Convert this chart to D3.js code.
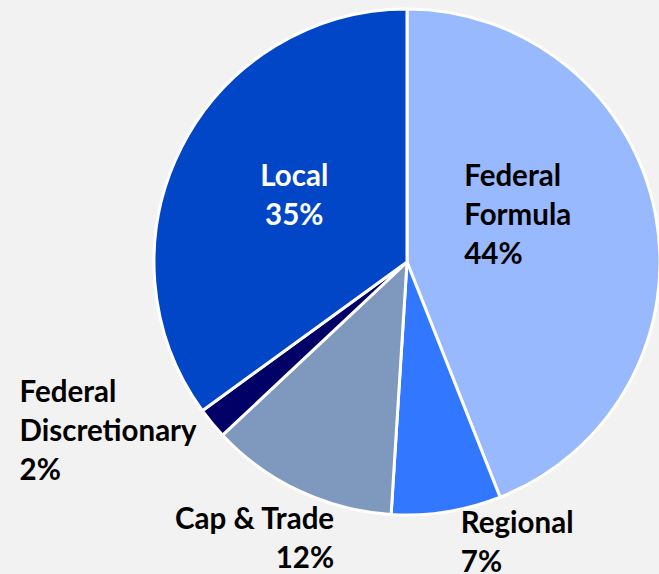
<!DOCTYPE html>
<html>
<head>
<meta charset="utf-8">
<script src="https://cdn.jsdelivr.net/npm/d3@7"></script>
<style>
  html, body { margin: 0; padding: 0; background: #f2f2f2; }
  svg { display: block; }
  .lbl { font-family: Lato, "Open Sans", sans-serif; font-weight: bold; font-size: 29.5px; }
</style>
</head>
<body>
<svg id="chart"></svg>
<script>
// data, clockwise from 12 o'clock
const categories = ["Federal Formula", "Regional", "Cap & Trade", "Federal Discretionary", "Local"];
const shares = [44, 7, 12, 2, 35];
const labelLines = [["Federal", "Formula", "44%"], ["Regional", "7%"], ["Cap & Trade", "12%"], ["Federal", "Discretionary", "2%"], ["Local", "35%"]];
const colors = ["#99b9ff", "#3177ff", "#7f98be", "#000066", "#0046c7"];

const width = 659;
const height = 574;
const cx = 407;
const cy = 262;
const radius = 253;

// label placement: offset from the slice centroid, plus text anchor
const labelLayout = [
  { anchor: "start", dx: -67, dy: -52, fill: "#000" },
  { anchor: "start", dx: 34, dy: 146, fill: "#000" },
  { anchor: "end", dx: -19, dy: 153, fill: "#000" },
  { anchor: "start", dx: -290, dy: 59, fill: "#000" },
  { anchor: "middle", dx: 0, dy: -19, fill: "#fff" }
];
const lineHeight = 39;

const svg = d3.select("#chart")
  .attr("width", width)
  .attr("height", height);

const pie = d3.pie().sort(null).value((d) => d.value);
const arcs = pie(categories.map((c, i) => ({ name: c, value: shares[i], i })));

const arc = d3.arc().innerRadius(0).outerRadius(radius);

const g = svg.append("g").attr("transform", `translate(${cx},${cy})`);

g.selectAll("path")
  .data(arcs)
  .enter()
  .append("path")
  .attr("d", arc)
  .attr("fill", (d) => colors[d.data.i])
  .attr("stroke", "#fff")
  .attr("stroke-width", 3)
  .attr("stroke-linejoin", "round");

const labels = g.selectAll(".lbl")
  .data(arcs)
  .enter()
  .append("text")
  .attr("class", "lbl")
  .attr("text-anchor", (d) => labelLayout[d.data.i].anchor)
  .attr("fill", (d) => labelLayout[d.data.i].fill)
  .attr("transform", (d) => {
    const [x, y] = arc.centroid(d);
    const l = labelLayout[d.data.i];
    return `translate(${x + l.dx},${y + l.dy})`;
  });

labels.each(function (d) {
  d3.select(this).selectAll("tspan")
    .data(labelLines[d.data.i])
    .enter()
    .append("tspan")
    .attr("x", 0)
    .attr("y", (t, k) => k * lineHeight)
    .text((t) => t);
});
</script>
</body>
</html>
